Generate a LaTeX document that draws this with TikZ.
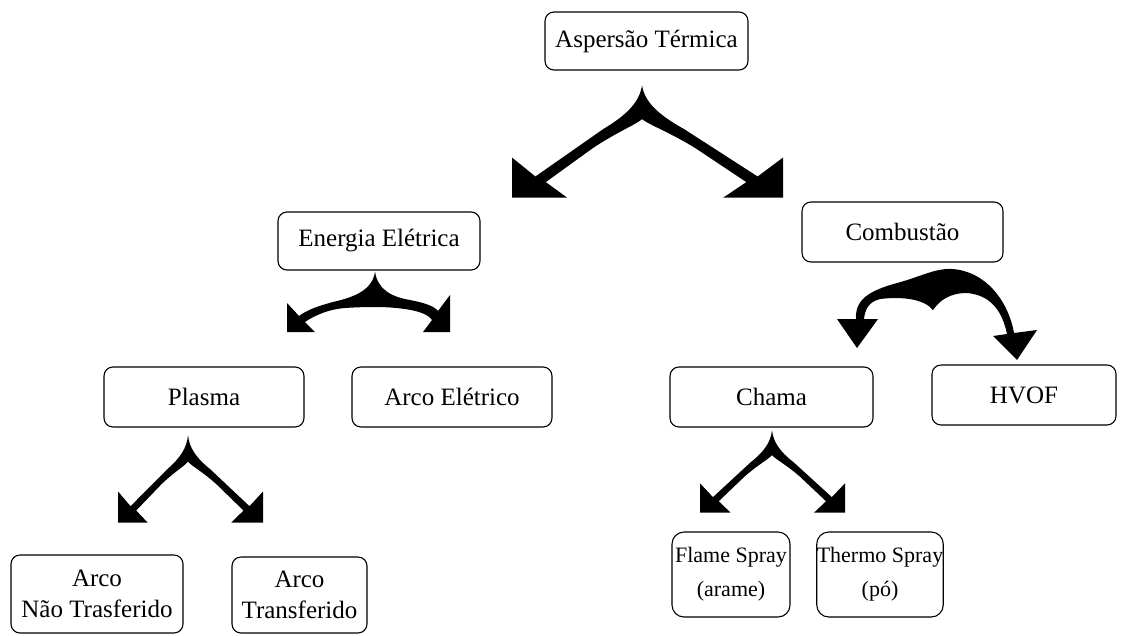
\documentclass[tikz,border=0pt]{standalone}
\usepackage{fontspec}
\setmainfont{Liberation Serif}
\usetikzlibrary{calc}
\tikzset{
  box/.style={draw, line width=1.1pt, rounded corners=9pt, inner sep=0pt, align=center,
    font=\fontsize{25}{31}\selectfont},
  smallbox/.style={box, font=\fontsize{22}{34}\selectfont, rounded corners=12pt},
  fat/.style={fill=black, draw=none},
}
\newcommand{\halfV}[3]{%
  \begin{scope}[shift={#1}, xscale=#2, yscale=#3]
    \fill (0,0) .. controls (-0.02,0.14) and (-0.1,0.25) .. (-0.3,0.39)
      -- (-0.82,0.812) -- (-1,0.643) -- (-1,1) -- (-0.577,1) -- (-0.74,0.862)
      -- (-0.38,0.56) .. controls (-0.2,0.42) and (-0.05,0.35) .. (0,0.30) -- cycle;
  \end{scope}}
\begin{document}
\begin{tikzpicture}[x=1pt, y=-1pt]
\useasboundingbox (0,0) rectangle (1123,635);

\node[box, minimum width=203pt, minimum height=58pt] (asp) at (646.5,41) {Aspersão Térmica};
\node[box, minimum width=202pt, minimum height=58pt] (ene) at (379,241) {Energia Elétrica};
\node[box, minimum width=201pt, minimum height=60pt] (com) at (902.5,232) {Combustão};
\node[box, minimum width=200pt, minimum height=60pt] (pla) at (204,397) {Plasma};
\node[box, minimum width=200pt, minimum height=60pt] (arc) at (452,397) {Arco Elétrico};
\node[box, minimum width=203pt, minimum height=60pt] (cha) at (771.5,397) {Chama};
\node[box, minimum width=184pt, minimum height=60pt] (hvo) at (1024,395) {HVOF};
\node[box, minimum width=172pt, minimum height=78pt] (anf) at (97,594) {Arco\\Não Trasferido};
\node[box, minimum width=135pt, minimum height=76pt] (atr) at (299.5,595) {Arco\\Transferido};
\node[smallbox, minimum width=118pt, minimum height=85pt] (fla) at (731,574.5) {Flame Spray\\(arame)};
\node[smallbox, minimum width=120pt, minimum height=85pt] (the) at (880,574.5) {Thermo Spray\\(pó)};

% V-shaped fat arrows
\halfV{($(asp.south)+(-4.5,15)$)}{130}{112}
\halfV{($(asp.south)+(-4.5,15)$)}{-141}{112}
\halfV{($(pla.south)+(-16,8)$)}{70}{87}
\halfV{($(pla.south)+(-16,8)$)}{-75}{87}
\halfV{($(cha.south)+(0.5,3)$)}{72}{82}
\halfV{($(cha.south)+(0.5,3)$)}{-73}{82}

% Energia Eletrica arrows
\fill[fat] (375,272) .. controls (372,290) and (355,297) .. (333,302)
  .. controls (318,306) and (307,310) .. (299,316) -- (287,303) -- (287,332) -- (315,332)
  -- (305,322) .. controls (315,315) and (330,309) .. (345,308)
  .. controls (360,307) and (370,307) .. (375,307) -- cycle;
\fill[fat] (375,272) .. controls (378,290) and (392,297) .. (410,300)
  .. controls (425,303) and (434,306) .. (438,311) -- (450,295) -- (450,332) -- (423,332)
  -- (432,320) .. controls (428,314) and (418,311) .. (405,309)
  .. controls (390,307) and (380,307) .. (375,307) -- cycle;

% Combustao arch arrows
\fill[fat] (837,319) -- (856,319) .. controls (855,300) and (868,291) .. (897,283)
  .. controls (920,277) and (935,268) .. (952,269)
  .. controls (985,271) and (1008,300) .. (1014,333) -- (1037,330) -- (1017,360) -- (993,336)
  -- (1007,334) .. controls (1002,310) and (990,295) .. (967,293)
  .. controls (950,293) and (940,300) .. (933,310)
  .. controls (925,300) and (905,296) .. (880,299)
  .. controls (868,302) and (865,310) .. (864,319) -- (878,319) -- (857,348) -- cycle;
\end{tikzpicture}
\end{document}
